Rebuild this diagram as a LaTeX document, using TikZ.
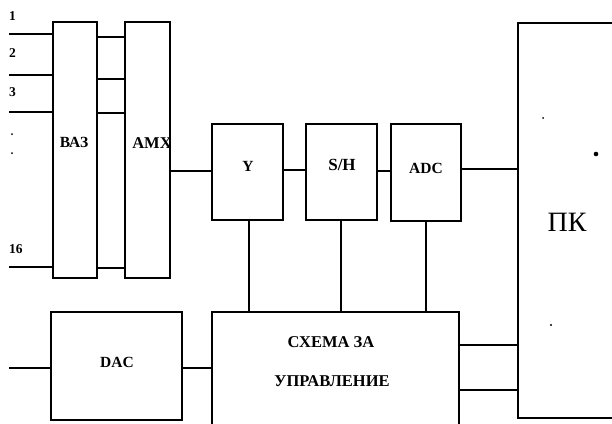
\documentclass[tikz,border=0pt]{standalone}
\usepackage{fontspec}
\setmainfont{Liberation Serif}
\begin{document}
\begin{tikzpicture}[x=1pt,y=-1pt,
  blk/.style={draw, line width=2pt, inner sep=0pt, outer sep=0pt, fill=white},
  wire/.style={line width=2pt},
  lbl/.style={font=\fontsize{15.5}{17}\selectfont\bfseries, inner sep=0pt},
  num/.style={font=\fontsize{13.5}{15}\selectfont\bfseries, inner sep=0pt, anchor=west},
  speck/.style={fill=black, draw=none}]
\useasboundingbox (0,0) rectangle (612,423);
\clip (0,0) rectangle (612,423);
\fill[white] (0,0) rectangle (612,423);

% boxes
\node[blk, minimum width=44, minimum height=256] (baz) at (75,150) {};
\node[blk, minimum width=45, minimum height=256] (amx) at (147.5,150) {};
\node[blk, minimum width=71, minimum height=96] (y) at (247.5,171.5) {};
\node[blk, minimum width=71, minimum height=96] (sh) at (341,171.5) {};
\node[blk, minimum width=70, minimum height=97] (adc) at (426,172) {};
\node[blk, minimum width=131, minimum height=108] (dac) at (116.5,366) {};
\node[blk, minimum width=247, minimum height=130] (ctl) at (335.5,377) {};
\node[blk, minimum width=110, minimum height=395] (pk) at (573,220.5) {};

% labels
\node[lbl] at (74,142) {ВАЗ};
\begin{scope}
\clip (amx.north west) rectangle (amx.south east);
\node[lbl, font=\fontsize{16.5}{18}\selectfont\bfseries] at (152,143) {AMX};
\end{scope}
\draw[line width=2pt] (amx.north east) -- (amx.south east);
\node[lbl] at (248,166) {Y};
\node[lbl, font=\fontsize{17}{18}\selectfont\bfseries] at (342,165) {S/H};
\node[lbl] at (426,168) {ADC};
\node[lbl] at (117,362) {DAC};
\node[lbl, font=\fontsize{16.5}{18}\selectfont\bfseries] at (331,342) {СХЕМА ЗА};
\node[lbl, font=\fontsize{16.5}{18}\selectfont\bfseries] at (332,381) {УПРАВЛЕНИЕ};
\node[inner sep=0pt, font=\fontsize{28}{30}\selectfont] at (567,222) {ПК};

% input numbers
\node[num] at (9,16) {1};
\node[num] at (9,53) {2};
\node[num] at (9,92) {3};
\node[num] at (9,249) {16};
\fill (12,134) circle (1pt);
\fill (12,153) circle (1pt);

% input lines
\coordinate (i1) at (9,34);
\coordinate (i2) at (9,75);
\coordinate (i3) at (9,112);
\coordinate (i16) at (9,267);
\coordinate (id) at (9,368);
\foreach \c in {i1,i2,i3,i16} \draw[wire] (\c) -- (\c -| baz.west);
\draw[wire] (id) -- (id -| dac.west);

% BAZ -> AMX
\foreach \yy in {37,79,113,268}
  \draw[wire] (baz.east |- 0,\yy) -- (amx.west |- 0,\yy);

% chain
\draw[wire] (amx.east |- 0,171) -- (y.west |- 0,171);
\draw[wire] (y.east |- 0,170) -- (sh.west |- 0,170);
\draw[wire] (sh.east |- 0,171) -- (adc.west |- 0,171);
\draw[wire] (adc.east |- 0,169) -- (pk.west |- 0,169);

% control verticals
\draw[wire] (y.south -| 249,0) -- (ctl.north -| 249,0);
\draw[wire] (sh.south -| 341,0) -- (ctl.north -| 341,0);
\draw[wire] (adc.south -| 426,0) -- (ctl.north -| 426,0);

% DAC -> control, control -> PK
\draw[wire] (dac.east |- 0,368) -- (ctl.west |- 0,368);
\draw[wire] (ctl.east |- 0,345) -- (pk.west |- 0,345);
\draw[wire] (ctl.east |- 0,390) -- (pk.west |- 0,390);

% specks on PK
\fill[speck] (543,118) circle (1pt);
\fill[speck] (596,154) circle (2.3pt);
\fill[speck] (551,325) circle (1.2pt);
\end{tikzpicture}
\end{document}
